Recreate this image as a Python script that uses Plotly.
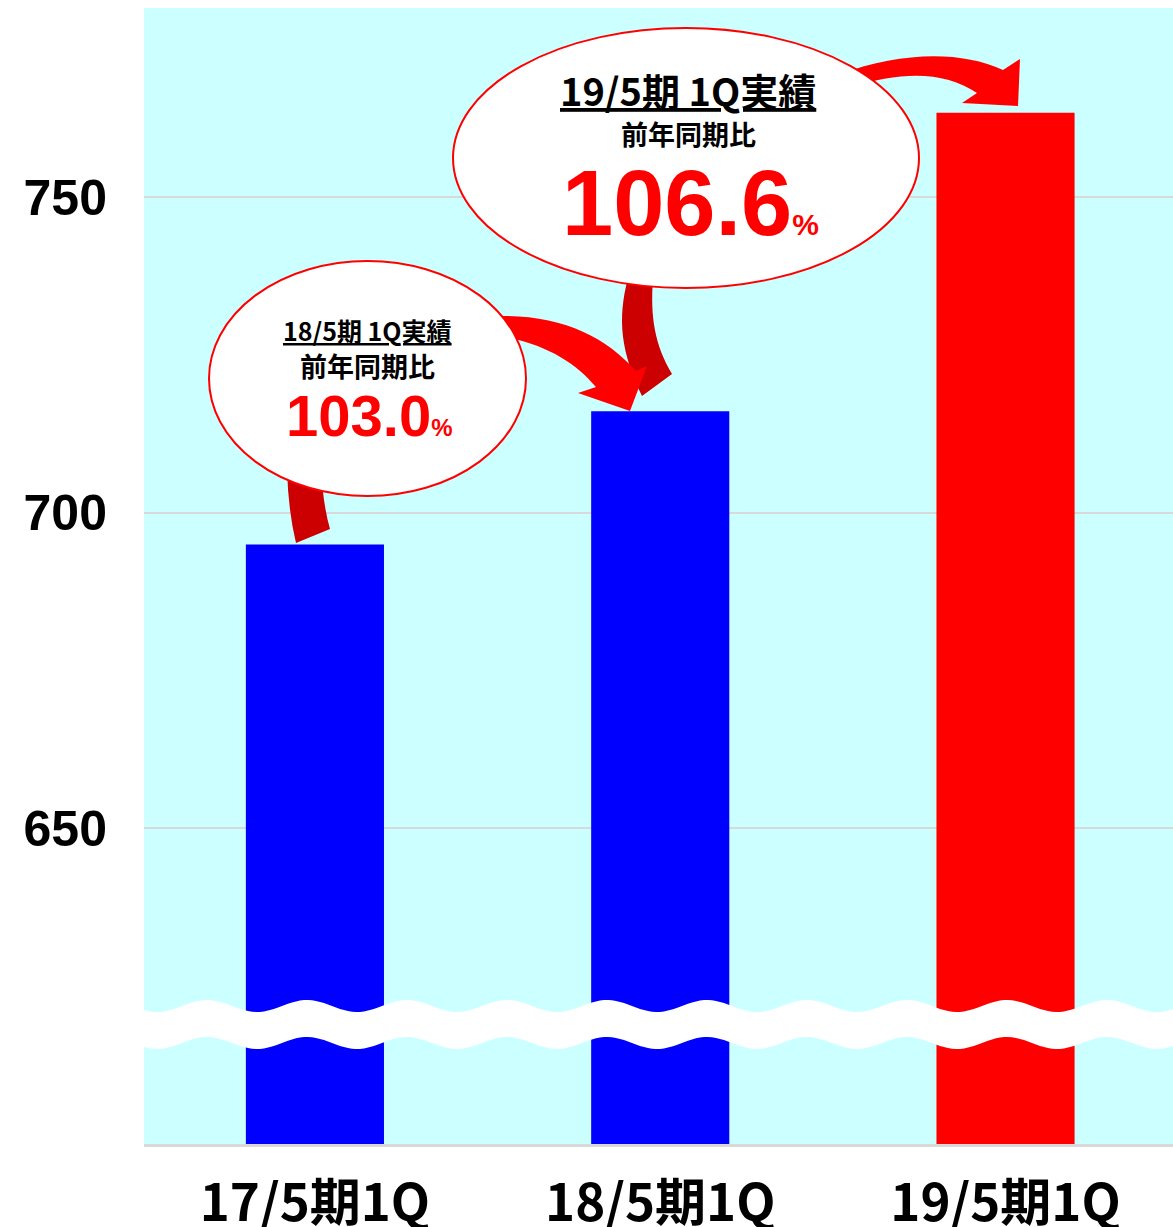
import numpy as np
import plotly.graph_objects as go

# ---- data ----
categories = ["17/5期1Q", "18/5期1Q", "19/5期1Q"]
values = [695.0, 716.1, 763.4]
bar_colors = ["#0000FF", "#0000FF", "#FF0000"]
y_ticks = [650, 700, 750]
yoy_labels = ["18/5期 1Q実績", "19/5期 1Q実績"]
yoy_sub = "前年同期比"
yoy_values = ["103.0", "106.6"]

W, H = 1173, 1227
L, R, T, B = 144, 0, 8, 83
PW, PH = W - L - R, H - T - B


def X(px):
    return (px - L) / PW


def Y(py):
    return (T + PH - py) / PH


fig = go.Figure()
fig.add_trace(go.Bar(x=categories, y=values, marker=dict(color=bar_colors, line=dict(width=0)),
                     width=0.4, showlegend=False))

shapes = []

# wave break (decoration)
xs = np.arange(L, W + 4, 4)
up = 1006 - 6 * np.cos(2 * np.pi * (xs - 207) / 100.0)
lo = up + 37
pts = [(x, y) for x, y in zip(xs, up)] + [(x, y) for x, y in zip(xs[::-1], lo[::-1])]
path = "M " + " L ".join(f"{X(x):.5f},{Y(y):.5f}" for x, y in pts) + " Z"
shapes.append(dict(type="path", xref="paper", yref="paper", path=path,
                   fillcolor="white", line=dict(width=0), layer="above"))


def P(cmds):
    out = []
    for c in cmds:
        if isinstance(c, str):
            out.append(c)
        else:
            out.append(f"{X(c[0]):.5f},{Y(c[1]):.5f}")
    return " ".join(out)


# dark tails
tail1 = P(["M", (287, 468), "Q", (288, 510), (296, 543), "L", (330, 529), "Q", (323, 505), (321, 468), "Z"])
tail2 = P(["M", (628, 278), "C", (617, 320), (621, 352), (642, 396), "L", (672, 374),
           "C", (655, 345), (650, 318), (653, 278), "Z"])
for p in (tail2, tail1):
    shapes.append(dict(type="path", xref="paper", yref="paper", path=p,
                       fillcolor="#CC0000", line=dict(width=0), layer="above"))

# front arrows
arr1 = P(["M", (495, 316), "C", (560, 314), (605, 336), (636, 371), "L", (647, 366), "L", (630, 411),
          "L", (578, 393), "L", (596, 387), "C", (575, 362), (545, 343), (495, 335), "Z"])
arr2 = P(["M", (840, 74), "C", (900, 52), (960, 50), (1003, 70), "L", (1020, 59), "L", (1018, 106),
          "L", (962, 103), "L", (977, 93), "C", (945, 72), (905, 70), (848, 88), "Z"])
for p in (arr1, arr2):
    shapes.append(dict(type="path", xref="paper", yref="paper", path=p,
                       fillcolor="#FF0000", line=dict(width=0), layer="above"))

# ellipses
for (x0, y0, x1, y1) in [(209, 261, 526, 496), (453, 28, 919, 288)]:
    shapes.append(dict(type="circle", xref="paper", yref="paper",
                       x0=X(x0), x1=X(x1), y0=Y(y1), y1=Y(y0),
                       fillcolor="white", line=dict(color="#FF0000", width=2), layer="above"))

cjk = "Noto Sans CJK JP"
num = "Liberation Sans, Arial, sans-serif"
annos = []
specs = [
    # cx, title_y, title_size, sub_y, sub_size, num_cx, num_y, num_size, pct_size
    (367, 330, 25, 366, 27, 369, 415, 58, 24),
    (688, 90, 38, 133, 27, 690, 203, 92, 30),
]
for i, (cx, ty, ts, sy, ss, ncx, ny, ns, ps) in enumerate(specs):
    annos.append(dict(xref="paper", yref="paper", x=X(cx), y=Y(ty), showarrow=False,
                      text=f"<u><b>{yoy_labels[i]}</b></u>", font=dict(family=cjk, size=ts, color="black"),
                      xanchor="center", yanchor="middle"))
    annos.append(dict(xref="paper", yref="paper", x=X(cx), y=Y(sy), showarrow=False,
                      text=f"<b>{yoy_sub}</b>", font=dict(family=cjk, size=ss, color="black"),
                      xanchor="center", yanchor="middle"))
    annos.append(dict(xref="paper", yref="paper", x=X(ncx), y=Y(ny), showarrow=False,
                      text=f"<b>{yoy_values[i]}<span style='font-size:{ps}px'>%</span></b>",
                      font=dict(family=num, size=ns, color="#FF0000"),
                      xanchor="center", yanchor="middle"))

fig.update_layout(
    width=W, height=H,
    margin=dict(l=L, r=R, t=T, b=B, pad=0, autoexpand=False),
    paper_bgcolor="white", plot_bgcolor="#CCFFFF",
    shapes=shapes, annotations=annos,
    bargap=0.6,
    xaxis=dict(range=[-0.495, 2.485], showgrid=False, zeroline=False, showline=True,
               linecolor="#D9D9D9", linewidth=3, ticks="", automargin=False,
               tickfont=dict(family=cjk, size=51, color="black", weight="bold"),
               ticklabelstandoff=13),
    yaxis=dict(range=[600, 780], tickvals=y_ticks, ticktext=[str(v) for v in y_ticks],
               showgrid=True, gridcolor="#D9D9D9", gridwidth=2, zeroline=False, showline=False,
               ticks="", automargin=False,
               tickfont=dict(family=num, size=50, color="black", weight="bold"),
               ticklabelstandoff=36),
)

fig.write_html(
    "out.html",
    config={"displayModeBar": False},
    post_script="document.body.style.margin='0';document.body.style.overflow='hidden';",
)
